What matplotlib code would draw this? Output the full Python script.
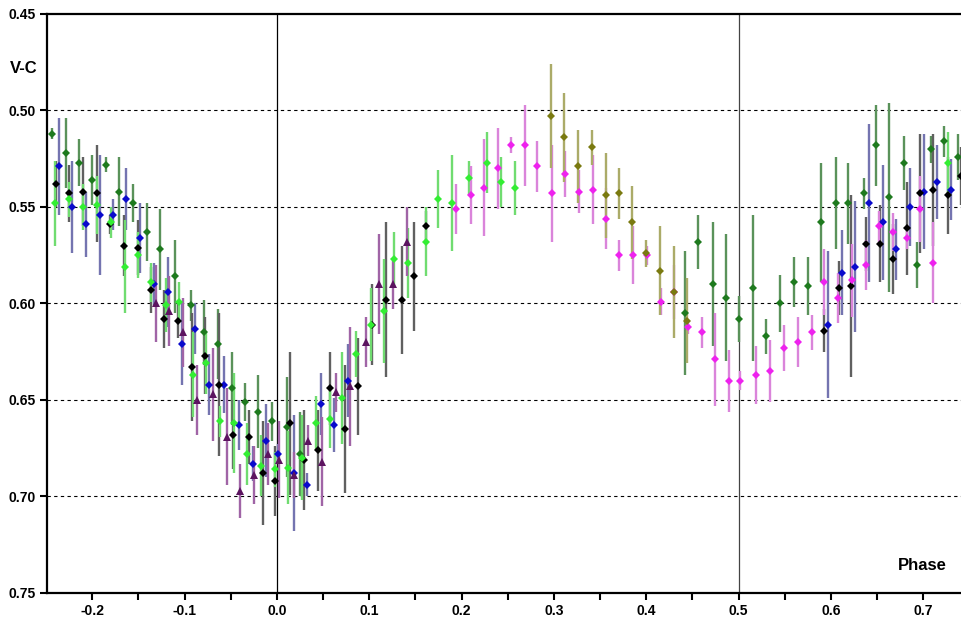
import numpy as np
import matplotlib
matplotlib.use("Agg")
import matplotlib.pyplot as plt

plt.rcParams['font.family'] = ['Liberation Sans', 'DejaVu Sans']

# -------------------------------
# Data: phase, V-C, error for each series
# -------------------------------
dg_phase = [-0.244, -0.229, -0.214, -0.200, -0.185, -0.171, -0.156, -0.141, -0.127, -0.110,
            -0.093, -0.079, -0.064, -0.049, -0.035, -0.020, -0.005, 0.011, 0.025,
            0.442, 0.456, 0.472, 0.486, 0.500, 0.516, 0.530, 0.545, 0.560, 0.575, 0.589,
            0.605, 0.619, 0.636, 0.649, 0.663, 0.679, 0.693, 0.708, 0.723, 0.738]
dg_vc = [0.512, 0.522, 0.527, 0.536, 0.528, 0.542, 0.548, 0.563, 0.572, 0.586,
         0.601, 0.615, 0.621, 0.644, 0.651, 0.656, 0.661, 0.664, 0.678,
         0.605, 0.568, 0.590, 0.597, 0.608, 0.592, 0.617, 0.600, 0.589, 0.591, 0.558,
         0.548, 0.548, 0.543, 0.518, 0.545, 0.527, 0.580, 0.520, 0.516, 0.524]
dg_err = [0.003, 0.018, 0.012, 0.013, 0.004, 0.018, 0.010, 0.015, 0.021, 0.019,
          0.008, 0.017, 0.018, 0.019, 0.010, 0.019, 0.010, 0.026, 0.022,
          0.032, 0.014, 0.032, 0.033, 0.012, 0.038, 0.009, 0.015, 0.013, 0.015, 0.031,
          0.024, 0.021, 0.008, 0.021, 0.049, 0.014, 0.012, 0.007, 0.008, 0.012]

bl_phase = [-0.236, -0.222, -0.207, -0.192, -0.178, -0.163, -0.148, -0.133, -0.118, -0.103,
            -0.089, -0.074, -0.057, -0.041, -0.026, -0.012, 0.001, 0.018, 0.033, 0.048,
            0.062, 0.077, 0.597, 0.612, 0.626, 0.641, 0.656, 0.671, 0.686, 0.701, 0.715, 0.730]
bl_vc = [0.529, 0.550, 0.559, 0.554, 0.554, 0.546, 0.566, 0.590, 0.594, 0.621,
         0.613, 0.642, 0.642, 0.663, 0.683, 0.671, 0.678, 0.688, 0.694, 0.652,
         0.663, 0.640, 0.611, 0.584, 0.581, 0.548, 0.558, 0.572, 0.550, 0.542, 0.537, 0.541]
bl_err = [0.025, 0.024, 0.017, 0.031, 0.008, 0.016, 0.018, 0.011, 0.018, 0.021,
          0.013, 0.016, 0.015, 0.013, 0.009, 0.019, 0.005, 0.030, 0.006, 0.016,
          0.014, 0.019, 0.038, 0.022, 0.034, 0.041, 0.030, 0.016, 0.020, 0.030, 0.019, 0.016]

bk_phase = [-0.239, -0.225, -0.210, -0.195, -0.181, -0.166, -0.151, -0.136, -0.122, -0.107,
            -0.092, -0.078, -0.063, -0.048, -0.030, -0.015, -0.002, 0.014, 0.029, 0.044,
            0.058, 0.074, 0.088, 0.103, 0.118, 0.136, 0.148, 0.161,
            0.593, 0.609, 0.622, 0.638, 0.653, 0.667, 0.682, 0.697, 0.711, 0.727, 0.741]
bk_vc = [0.538, 0.543, 0.542, 0.543, 0.559, 0.570, 0.571, 0.593, 0.608, 0.609,
         0.633, 0.627, 0.642, 0.668, 0.669, 0.688, 0.692, 0.662, 0.681, 0.676,
         0.644, 0.665, 0.643, 0.611, 0.598, 0.598, 0.586, 0.560,
         0.614, 0.592, 0.591, 0.569, 0.569, 0.577, 0.561, 0.543, 0.541, 0.544, 0.534]
bk_err = [0.012, 0.015, 0.018, 0.025, 0.005, 0.016, 0.014, 0.012, 0.015, 0.009,
          0.028, 0.020, 0.037, 0.018, 0.014, 0.027, 0.018, 0.037, 0.026, 0.021,
          0.019, 0.033, 0.025, 0.021, 0.040, 0.028, 0.028, 0.008,
          0.011, 0.014, 0.047, 0.014, 0.020, 0.018, 0.024, 0.031, 0.029, 0.020, 0.015]

lg_phase = [-0.240, -0.225, -0.210, -0.195, -0.180, -0.165, -0.151, -0.136, -0.120, -0.106,
            -0.091, -0.077, -0.062, -0.047, -0.032, -0.017, -0.002, 0.012, 0.027, 0.042,
            0.057, 0.071, 0.086, 0.102, 0.116, 0.127, 0.142, 0.161, 0.174, 0.190,
            0.208, 0.227, 0.243, 0.258, 0.727]
lg_vc = [0.548, 0.546, 0.550, 0.549, 0.558, 0.581, 0.575, 0.589, 0.601, 0.599,
         0.637, 0.631, 0.661, 0.662, 0.678, 0.684, 0.686, 0.685, 0.680, 0.662,
         0.660, 0.649, 0.626, 0.611, 0.604, 0.577, 0.579, 0.568, 0.546, 0.548,
         0.535, 0.527, 0.537, 0.540, 0.527]
lg_err = [0.022, 0.009, 0.012, 0.015, 0.008, 0.024, 0.012, 0.010, 0.014, 0.010,
          0.022, 0.016, 0.008, 0.026, 0.016, 0.016, 0.009, 0.019, 0.022, 0.014,
          0.015, 0.024, 0.012, 0.019, 0.027, 0.014, 0.018, 0.018, 0.015, 0.025,
          0.009, 0.016, 0.013, 0.014, 0.016]

pu_phase = [-0.131, -0.117, -0.102, -0.087, -0.069, -0.054, -0.040, -0.025, -0.010, 0.002,
            0.019, 0.034, 0.049, 0.064, 0.079, 0.097, 0.111, 0.126, 0.141]
pu_vc = [0.600, 0.604, 0.615, 0.650, 0.647, 0.669, 0.697, 0.689, 0.678, 0.681,
         0.689, 0.671, 0.682, 0.646, 0.643, 0.620, 0.590, 0.590, 0.568]
pu_err = [0.020, 0.018, 0.018, 0.018, 0.024, 0.025, 0.014, 0.015, 0.016, 0.020,
          0.012, 0.008, 0.023, 0.010, 0.031, 0.013, 0.026, 0.013, 0.018]

mg_phase = [0.194, 0.210, 0.224, 0.239, 0.254, 0.269, 0.282, 0.298, 0.312, 0.327,
            0.342, 0.356, 0.371, 0.386, 0.401, 0.416, 0.430, 0.445, 0.460, 0.475,
            0.490, 0.502, 0.519, 0.534, 0.549, 0.564, 0.579, 0.593, 0.608, 0.623,
            0.638, 0.652, 0.667, 0.682, 0.697, 0.711]
mg_vc = [0.551, 0.544, 0.540, 0.530, 0.518, 0.518, 0.529, 0.543, 0.533, 0.542,
         0.541, 0.556, 0.575, 0.575, 0.575, 0.599, 0.594, 0.612, 0.615, 0.629,
         0.640, 0.640, 0.637, 0.635, 0.623, 0.620, 0.615, 0.589, 0.597, 0.588,
         0.580, 0.560, 0.563, 0.566, 0.551, 0.579]
mg_err = [0.013, 0.015, 0.025, 0.021, 0.004, 0.021, 0.013, 0.025, 0.012, 0.011,
          0.018, 0.016, 0.008, 0.015, 0.005, 0.007, 0.014, 0.004, 0.008, 0.024,
          0.016, 0.005, 0.015, 0.016, 0.012, 0.013, 0.009, 0.017, 0.013, 0.019,
          0.013, 0.008, 0.010, 0.006, 0.017, 0.021]

ol_phase = [0.297, 0.311, 0.326, 0.341, 0.356, 0.370, 0.385, 0.400, 0.415, 0.430, 0.444]
ol_vc = [0.503, 0.514, 0.529, 0.519, 0.544, 0.543, 0.558, 0.574, 0.583, 0.594, 0.609]
ol_err = [0.027, 0.023, 0.019, 0.009, 0.022, 0.013, 0.019, 0.007, 0.023, 0.024, 0.022]

# -------------------------------
# Plot
# -------------------------------
fig = plt.figure(figsize=(9.62, 6.21), dpi=100)
ax = fig.add_axes([0.0489, 0.0451, 0.9511, 0.9324])

ax.axvline(0.0, color="black", lw=0.9, zorder=1)
ax.axvline(0.5, color="#444444", lw=0.9, zorder=1)
for yv in [0.50, 0.55, 0.60, 0.65, 0.70]:
    ax.axhline(yv, color="black", lw=0.8, ls=(0, (3, 3)), zorder=1)

series = [
    (dg_phase, dg_vc, dg_err, "D", "#1e7a1e", "#5a925a", 4.5),
    (bl_phase, bl_vc, bl_err, "D", "#0a0acc", "#7474b0", 4.5),
    (bk_phase, bk_vc, bk_err, "D", "black", "#606060", 4.5),
    (lg_phase, lg_vc, lg_err, "D", "#33ee33", "#70dc70", 4.5),
    (pu_phase, pu_vc, pu_err, "^", "#5c1460", "#a064a6", 6),
    (mg_phase, mg_vc, mg_err, "D", "#ee22ee", "#da84da", 4.5),
    (ol_phase, ol_vc, ol_err, "D", "#7a7a10", "#abab68", 4.5),
]
for ph, vc, er, mk, mc, ec, ms in series:
    ax.errorbar(ph, vc, yerr=er, fmt=mk, color=mc, ecolor=ec, elinewidth=1.7,
                capsize=0, markersize=ms, markeredgewidth=0, zorder=3)

ax.set_xlim(-0.249, 0.742)
ax.set_ylim(0.75, 0.45)

ax.set_xticks(np.arange(-0.2, 0.75, 0.1))
ax.set_xticklabels([f"{v:.1f}" for v in np.arange(-0.2, 0.75, 0.1)])
ax.set_xticks(np.arange(-0.15, 0.75, 0.1), minor=True)
ax.set_yticks(np.arange(0.45, 0.751, 0.05))
ax.set_yticklabels([f"{v:.2f}" for v in np.arange(0.45, 0.751, 0.05)])

ax.tick_params(axis="both", which="both", direction="out", length=5, width=1.5,
               labelsize=10, pad=3)
for lab in ax.get_xticklabels() + ax.get_yticklabels():
    lab.set_fontweight("bold")

for s in ["left", "top", "bottom"]:
    ax.spines[s].set_linewidth(1.6)
ax.spines["right"].set_visible(False)

fig.text(0.025, 0.890, "V-C", fontsize=12, fontweight="bold", ha="center", va="center")
ax.text(0.983, 0.047, "Phase", transform=ax.transAxes, fontsize=12, fontweight="bold",
        ha="right", va="center")

fig.savefig("out.png", dpi=100)
